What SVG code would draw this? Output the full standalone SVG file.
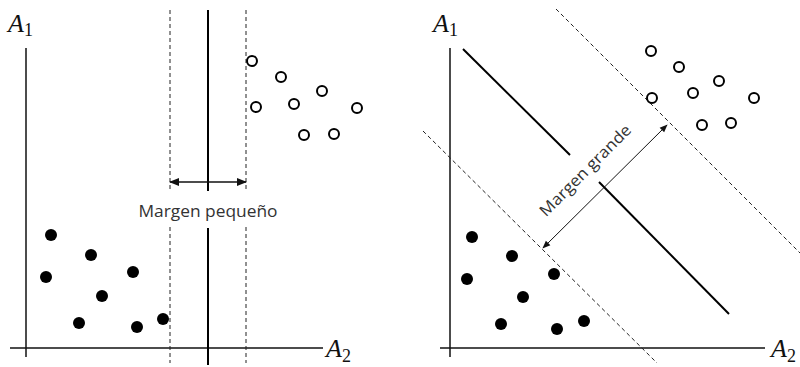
<svg xmlns="http://www.w3.org/2000/svg" width="800" height="367" viewBox="0 0 800 367">
<style>
.axis{stroke:#111;stroke-width:1.5;fill:none}
.sep{stroke:#000;stroke-width:2;fill:none}
.dash{stroke:#222;stroke-width:1;stroke-dasharray:4 3;fill:none}
.arr{stroke:#111;stroke-width:1.5;fill:none}
.open{fill:#fff;stroke:#000;stroke-width:2}
.full{fill:#000}
.lbl{font-family:"Liberation Serif",serif;font-style:italic;font-size:26px;fill:#111}
.sub{font-size:18px;font-style:normal}
.txt{font-family:"Open Sans","Liberation Sans",sans-serif;font-size:16px;fill:#333}
</style>
<defs>
<marker id="ah" viewBox="0 0 10 10" refX="9" refY="5" markerWidth="8" markerHeight="8" orient="auto-start-reverse" markerUnits="userSpaceOnUse">
<path d="M0,1 L10,5 L0,9 Z" fill="#111"/>
</marker>
<marker id="ah2" viewBox="0 0 10 10" refX="9" refY="5" markerWidth="10" markerHeight="10" orient="auto-start-reverse" markerUnits="userSpaceOnUse">
<path d="M0,1 L10,5 L0,9 Z" fill="#111"/>
</marker>
</defs>
<rect width="800" height="367" fill="#fff"/>

<g id="panel-left">
<g id="axes-left">
<line class="axis" x1="26" y1="48" x2="26" y2="357"/>
<line class="axis" x1="10" y1="348" x2="323" y2="348"/>
<text class="lbl" x="8" y="32">A<tspan class="sub" dy="4">1</tspan></text>
<text class="lbl" x="326" y="357">A<tspan class="sub" dy="5">2</tspan></text>
</g>
<g id="connectors-left">
<line class="dash" x1="170" y1="10" x2="170" y2="192"/>
<line class="dash" x1="170" y1="227" x2="170" y2="363"/>
<line class="dash" x1="246" y1="10" x2="246" y2="192"/>
<line class="dash" x1="246" y1="227" x2="246" y2="363"/>
<line class="sep" x1="208" y1="10" x2="208" y2="191"/>
<line class="sep" x1="208" y1="228" x2="208" y2="365"/>
<line class="arr" x1="170" y1="182" x2="246" y2="182" marker-start="url(#ah2)" marker-end="url(#ah2)"/>
</g>
<text class="txt" x="208" y="217" text-anchor="middle" textLength="139" lengthAdjust="spacingAndGlyphs">Margen pequeño</text>
<g id="open-left">
<circle class="open" cx="252" cy="61" r="5"/>
<circle class="open" cx="281" cy="77" r="5"/>
<circle class="open" cx="322" cy="91" r="5"/>
<circle class="open" cx="256" cy="107" r="5"/>
<circle class="open" cx="294" cy="104" r="5"/>
<circle class="open" cx="357" cy="108" r="5"/>
<circle class="open" cx="304" cy="135" r="5"/>
<circle class="open" cx="334" cy="134" r="5"/>
</g>
<g id="full-left">
<circle class="full" cx="51" cy="235" r="6"/>
<circle class="full" cx="91" cy="255" r="6"/>
<circle class="full" cx="46" cy="277" r="6"/>
<circle class="full" cx="133" cy="272" r="6"/>
<circle class="full" cx="102" cy="296" r="6"/>
<circle class="full" cx="79" cy="323" r="6"/>
<circle class="full" cx="137" cy="327" r="6"/>
<circle class="full" cx="163" cy="319" r="6"/>
</g>
</g>

<g id="panel-right">
<g id="axes-right">
<line class="axis" x1="450" y1="48" x2="450" y2="357"/>
<line class="axis" x1="440" y1="348" x2="765" y2="348"/>
<text class="lbl" x="433" y="32">A<tspan class="sub" dy="4">1</tspan></text>
<text class="lbl" x="771" y="357">A<tspan class="sub" dy="5">2</tspan></text>
</g>
<g id="connectors-right">
<line class="dash" x1="423" y1="131" x2="657" y2="363"/>
<line class="dash" x1="556" y1="9" x2="800" y2="253"/>
<line class="sep" x1="463" y1="49" x2="570" y2="155"/>
<line class="sep" x1="599" y1="182" x2="729" y2="314"/>
<line class="arr" style="stroke-width:1" x1="543" y1="248" x2="667" y2="125" marker-start="url(#ah)" marker-end="url(#ah)"/>
</g>
<text class="txt" x="585" y="176" text-anchor="middle" transform="rotate(-45 585 170)" textLength="122" lengthAdjust="spacingAndGlyphs">Margen grande</text>
<g id="open-right">
<circle class="open" cx="651" cy="51" r="5"/>
<circle class="open" cx="679" cy="67" r="5"/>
<circle class="open" cx="719" cy="81" r="5"/>
<circle class="open" cx="652" cy="98" r="5"/>
<circle class="open" cx="693" cy="93" r="5"/>
<circle class="open" cx="754" cy="98" r="5"/>
<circle class="open" cx="702" cy="125" r="5"/>
<circle class="open" cx="731" cy="123" r="5"/>
</g>
<g id="full-right">
<circle class="full" cx="472" cy="237" r="6"/>
<circle class="full" cx="512" cy="256" r="6"/>
<circle class="full" cx="467" cy="279" r="6"/>
<circle class="full" cx="554" cy="274" r="6"/>
<circle class="full" cx="523" cy="297" r="6"/>
<circle class="full" cx="501" cy="324" r="6"/>
<circle class="full" cx="557" cy="329" r="6"/>
<circle class="full" cx="584" cy="321" r="6"/>
</g>
</g>
</svg>
